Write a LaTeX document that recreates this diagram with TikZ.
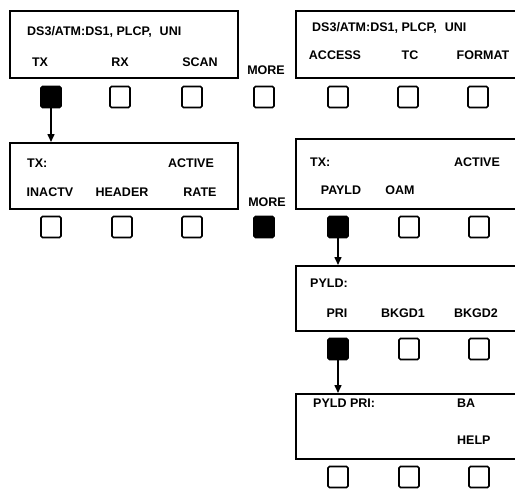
\documentclass[tikz,border=0pt]{standalone}
\usepackage{fontspec}
\setmainfont{Liberation Sans}
\usetikzlibrary{arrows.meta, positioning}

\tikzset{
  panel/.style={draw, line width=1.6pt, anchor=north west, inner sep=0pt},
  keybox/.style={draw, line width=1.6pt, minimum width=20pt, minimum height=21pt,
                 inner sep=0pt, rounded corners=1.5pt},
  keyon/.style={keybox, fill=black},
  lbl/.style={font=\bfseries\fontsize{12.5}{14}\selectfont, inner sep=0pt},
  push/.style={line width=1.5pt, -{Triangle[length=8pt, width=7pt]}},
}

\begin{document}
\begin{tikzpicture}[x=1pt, y=-1pt]
\useasboundingbox (0,0) rectangle (515,490);
\clip (0,0) rectangle (515,490);
% Panels
\node[panel, minimum width=228pt, minimum height=67pt] (p1) at (9,10) {};
\node[panel, minimum width=240pt, minimum height=67pt] (p2) at (295,10) {};
\node[panel, minimum width=228pt, minimum height=66pt] (p3) at (9,142) {};
\node[panel, minimum width=240pt, minimum height=70pt] (p4) at (295,138) {};
\node[panel, minimum width=240pt, minimum height=65pt] (p5) at (295,265) {};
\node[panel, minimum width=240pt, minimum height=65pt] (p6) at (295,393) {};
% Panel texts
\node[lbl, anchor=west] (h1) at (27,32) {DS3/ATM:DS1, PLCP,\hspace{8pt}UNI};
\node[lbl] (tTX) at (40,62) {TX};
\node[lbl] (tRX) at (120,62) {RX};
\node[lbl] (tSCAN) at (200,62) {SCAN};
\node[lbl, anchor=west] (h2) at (312,28) {DS3/ATM:DS1, PLCP,\hspace{8pt}UNI};
\node[lbl] (tACCESS) at (335,55) {ACCESS};
\node[lbl] (tTC) at (410,55) {TC};
\node[lbl] (tFORMAT) at (483,55) {FORMAT};
\node[lbl, anchor=west] (h3) at (27,163) {TX:};
\node[lbl] (tACT1) at (191,163) {ACTIVE};
\node[lbl] (tINACTV) at (50,192) {INACTV};
\node[lbl] (tHEADER) at (122,192) {HEADER};
\node[lbl] (tRATE) at (200,192) {RATE};
\node[lbl, anchor=west] (h4) at (310,162) {TX:};
\node[lbl] (tACT2) at (477,162) {ACTIVE};
\node[lbl] (tPAYLD) at (341,190) {PAYLD};
\node[lbl] (tOAM) at (400,190) {OAM};
\node[lbl, anchor=west] (h5) at (310,283) {PYLD:};
\node[lbl] (tPRI) at (337,313) {PRI};
\node[lbl] (tBKGD1) at (403,313) {BKGD1};
\node[lbl] (tBKGD2) at (476,313) {BKGD2};
\node[lbl, anchor=west] (h6) at (313,403) {PYLD PRI:};
\node[lbl, anchor=west] (tBA) at (457,403) {BA};
\node[lbl, anchor=west] (tHELP) at (457,440) {HELP};
% MORE labels
\node[lbl] (more1) at (266,70) {MORE};
\node[lbl] (more2) at (267,202) {MORE};
% Keys
\node[keyon] (k11) at (51,97) {};
\foreach \x/\n in {120/k12, 192/k13, 264/k14, 338/k15, 408/k16, 478/k17}
  \node[keybox] (\n) at (\x,97) {};
\foreach \x/\n in {51/k21, 122/k22, 192/k23, 409/k26, 479/k27}
  \node[keybox] (\n) at (\x,227) {};
\node[keyon] (k24) at (264,227) {};
\node[keyon] (k25) at (338,227) {};
\node[keyon] (k31) at (338,349) {};
\node[keybox] (k32) at (409,349) {};
\node[keybox] (k33) at (479,349) {};
\foreach \x/\n in {338/k41, 409/k42, 479/k43}
  \node[keybox] (\n) at (\x,477) {};
% Key presses
\draw[push] (k11.south) -- (p3.north -| k11);
\draw[push] (k25.south) -- (p5.north -| k25);
\draw[push] (k31.south) -- (p6.north -| k31);
\end{tikzpicture}
\end{document}
